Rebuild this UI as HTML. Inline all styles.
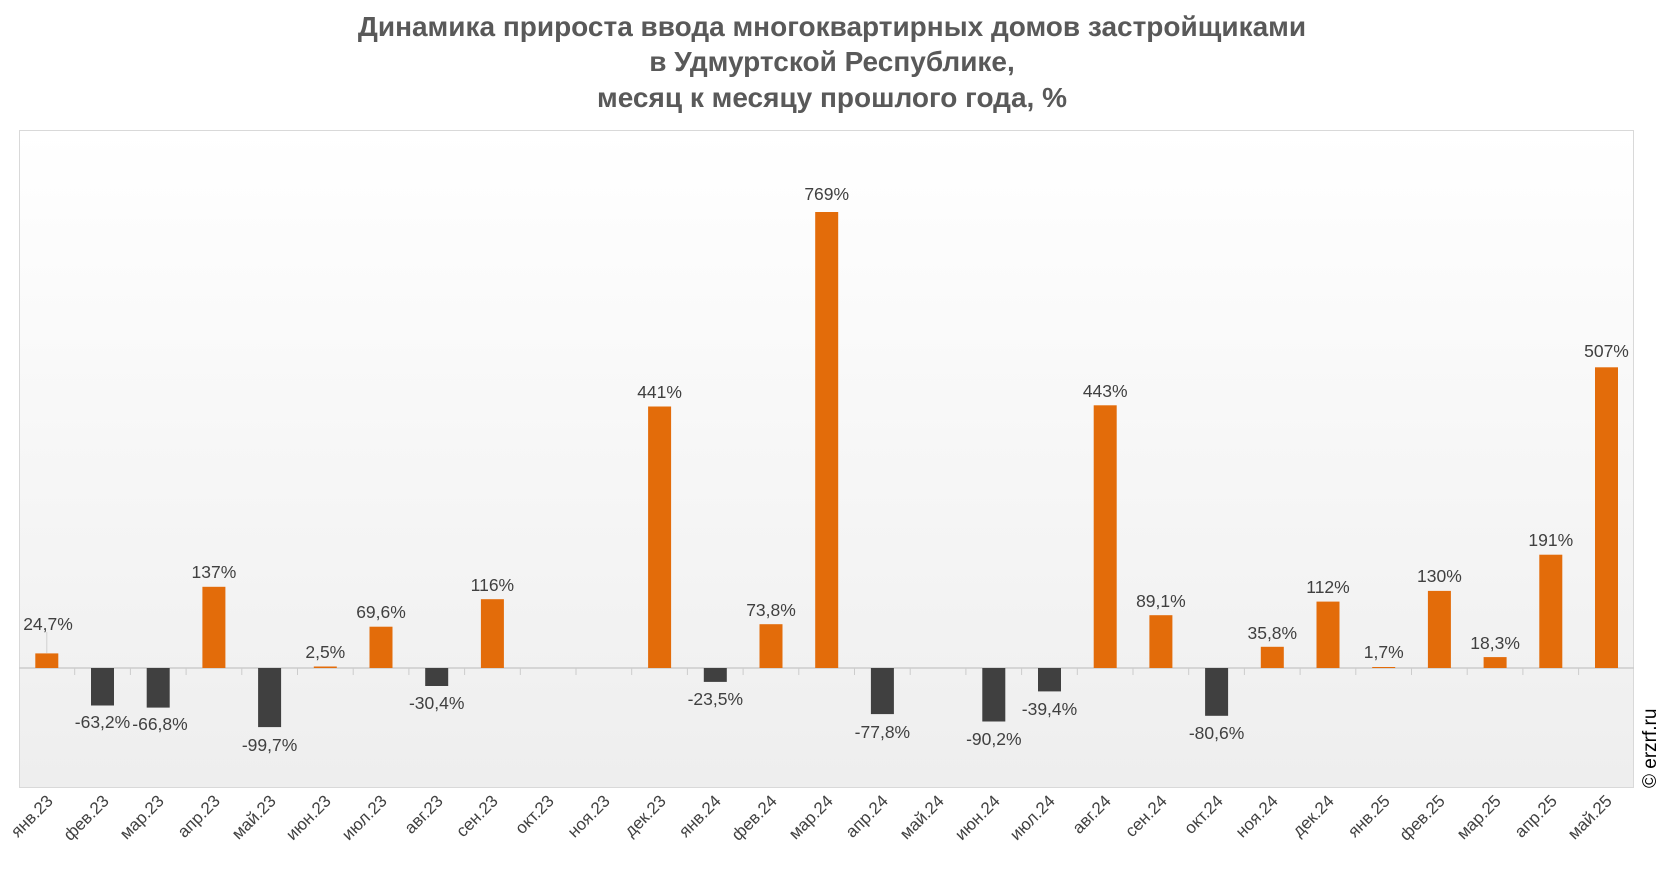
<!DOCTYPE html><html><head><meta charset="utf-8"><style>
body{margin:0;background:#fff}
svg{display:block;font-family:"Liberation Sans",Arial,sans-serif}
.t{font-weight:bold;font-size:28px;fill:#595959}
.l{font-size:17.5px;fill:#404040;text-anchor:middle}
.x{font-size:17px;fill:#404040;text-anchor:end}
.p{fill:#e36c0a}.n{fill:#404040}
</style></head><body>
<svg width="1666" height="872" viewBox="0 0 1666 872">
<defs><linearGradient id="g" x1="0" y1="0" x2="0" y2="1"><stop offset="0" stop-color="#ffffff"/><stop offset="1" stop-color="#eeeeee"/></linearGradient></defs>
<text class="t" x="832" y="36" text-anchor="middle">Динамика прироста ввода многоквартирных домов застройщиками</text>
<text class="t" x="832" y="71" text-anchor="middle">в Удмуртской Республике,</text>
<text class="t" x="832" y="107" text-anchor="middle">месяц к месяцу прошлого года, %</text>
<rect x="19.5" y="130.5" width="1614" height="657" fill="url(#g)" stroke="#d9d9d9"/>
<line x1="19" y1="668" x2="1634" y2="668" stroke="#cccccc" stroke-width="1.5"/>
<g stroke="#cccccc">
<line x1="74.7" y1="668" x2="74.7" y2="675"/><line x1="130.4" y1="668" x2="130.4" y2="675"/><line x1="186.1" y1="668" x2="186.1" y2="675"/><line x1="241.8" y1="668" x2="241.8" y2="675"/><line x1="297.5" y1="668" x2="297.5" y2="675"/><line x1="353.2" y1="668" x2="353.2" y2="675"/><line x1="408.9" y1="668" x2="408.9" y2="675"/><line x1="464.6" y1="668" x2="464.6" y2="675"/><line x1="520.3" y1="668" x2="520.3" y2="675"/><line x1="576" y1="668" x2="576" y2="675"/><line x1="631.7" y1="668" x2="631.7" y2="675"/><line x1="687.4" y1="668" x2="687.4" y2="675"/><line x1="743.1" y1="668" x2="743.1" y2="675"/><line x1="798.8" y1="668" x2="798.8" y2="675"/><line x1="854.5" y1="668" x2="854.5" y2="675"/><line x1="910.2" y1="668" x2="910.2" y2="675"/><line x1="965.9" y1="668" x2="965.9" y2="675"/><line x1="1021.6" y1="668" x2="1021.6" y2="675"/><line x1="1077.3" y1="668" x2="1077.3" y2="675"/><line x1="1133" y1="668" x2="1133" y2="675"/><line x1="1188.7" y1="668" x2="1188.7" y2="675"/><line x1="1244.4" y1="668" x2="1244.4" y2="675"/><line x1="1300.1" y1="668" x2="1300.1" y2="675"/><line x1="1355.8" y1="668" x2="1355.8" y2="675"/><line x1="1411.5" y1="668" x2="1411.5" y2="675"/><line x1="1467.2" y1="668" x2="1467.2" y2="675"/><line x1="1522.9" y1="668" x2="1522.9" y2="675"/><line x1="1578.6" y1="668" x2="1578.6" y2="675"/>
<line x1="46.8" y1="632" x2="46.8" y2="653" stroke="#d0d0d0"/>
</g>
<rect class="p" x="35.3" y="653.4" width="23" height="14.6"/>
<rect class="n" x="91" y="668" width="23" height="37.5"/>
<rect class="n" x="146.7" y="668" width="23" height="39.6"/>
<rect class="p" x="202.4" y="586.8" width="23" height="81.2"/>
<rect class="n" x="258.1" y="668" width="23" height="59.1"/>
<rect class="p" x="313.8" y="666.5" width="23" height="1.5"/>
<rect class="p" x="369.5" y="626.7" width="23" height="41.3"/>
<rect class="n" x="425.2" y="668" width="23" height="18"/>
<rect class="p" x="480.9" y="599.2" width="23" height="68.8"/>
<rect class="p" x="648.1" y="406.5" width="23" height="261.5"/>
<rect class="n" x="703.8" y="668" width="23" height="13.9"/>
<rect class="p" x="759.5" y="624.2" width="23" height="43.8"/>
<rect class="p" x="815.2" y="212" width="23" height="456"/>
<rect class="n" x="870.9" y="668" width="23" height="46.1"/>
<rect class="n" x="982.3" y="668" width="23" height="53.5"/>
<rect class="n" x="1038" y="668" width="23" height="23.4"/>
<rect class="p" x="1093.7" y="405.3" width="23" height="262.7"/>
<rect class="p" x="1149.4" y="615.2" width="23" height="52.8"/>
<rect class="n" x="1205.1" y="668" width="23" height="47.8"/>
<rect class="p" x="1260.8" y="646.8" width="23" height="21.2"/>
<rect class="p" x="1316.5" y="601.6" width="23" height="66.4"/>
<rect class="p" x="1372.2" y="667" width="23" height="1"/>
<rect class="p" x="1427.9" y="590.9" width="23" height="77.1"/>
<rect class="p" x="1483.6" y="657.1" width="23" height="10.9"/>
<rect class="p" x="1539.3" y="554.7" width="23" height="113.3"/>
<rect class="p" x="1595" y="367.3" width="23" height="300.7"/>
<text class="l" x="48" y="630">24,7%</text>
<text class="l" x="102.5" y="728">-63,2%</text>
<text class="l" x="160" y="730">-66,8%</text>
<text class="l" x="213.9" y="578">137%</text>
<text class="l" x="269.6" y="751">-99,7%</text>
<text class="l" x="325.3" y="658">2,5%</text>
<text class="l" x="381" y="618">69,6%</text>
<text class="l" x="436.7" y="709">-30,4%</text>
<text class="l" x="492.4" y="591">116%</text>
<text class="l" x="659.6" y="398">441%</text>
<text class="l" x="715.3" y="705">-23,5%</text>
<text class="l" x="771" y="616">73,8%</text>
<text class="l" x="826.7" y="200">769%</text>
<text class="l" x="882.4" y="738">-77,8%</text>
<text class="l" x="993.8" y="745">-90,2%</text>
<text class="l" x="1049.5" y="715">-39,4%</text>
<text class="l" x="1105.2" y="397">443%</text>
<text class="l" x="1160.9" y="607">89,1%</text>
<text class="l" x="1216.6" y="739">-80,6%</text>
<text class="l" x="1272.3" y="639">35,8%</text>
<text class="l" x="1328" y="593">112%</text>
<text class="l" x="1383.7" y="658">1,7%</text>
<text class="l" x="1439.4" y="582">130%</text>
<text class="l" x="1495.1" y="649">18,3%</text>
<text class="l" x="1550.8" y="546">191%</text>
<text class="l" x="1606.5" y="357">507%</text>
<g class="x">
<text transform="translate(54,802) rotate(-45)">янв.23</text>
<text transform="translate(110,802) rotate(-45)">фев.23</text>
<text transform="translate(165,802) rotate(-45)">мар.23</text>
<text transform="translate(221,802) rotate(-45)">апр.23</text>
<text transform="translate(277,802) rotate(-45)">май.23</text>
<text transform="translate(332,802) rotate(-45)">июн.23</text>
<text transform="translate(388,802) rotate(-45)">июл.23</text>
<text transform="translate(444,802) rotate(-45)">авг.23</text>
<text transform="translate(499,802) rotate(-45)">сен.23</text>
<text transform="translate(555,802) rotate(-45)">окт.23</text>
<text transform="translate(611,802) rotate(-45)">ноя.23</text>
<text transform="translate(667,802) rotate(-45)">дек.23</text>
<text transform="translate(722,802) rotate(-45)">янв.24</text>
<text transform="translate(778,802) rotate(-45)">фев.24</text>
<text transform="translate(834,802) rotate(-45)">мар.24</text>
<text transform="translate(889,802) rotate(-45)">апр.24</text>
<text transform="translate(945,802) rotate(-45)">май.24</text>
<text transform="translate(1001,802) rotate(-45)">июн.24</text>
<text transform="translate(1056,802) rotate(-45)">июл.24</text>
<text transform="translate(1112,802) rotate(-45)">авг.24</text>
<text transform="translate(1168,802) rotate(-45)">сен.24</text>
<text transform="translate(1224,802) rotate(-45)">окт.24</text>
<text transform="translate(1279,802) rotate(-45)">ноя.24</text>
<text transform="translate(1335,802) rotate(-45)">дек.24</text>
<text transform="translate(1391,802) rotate(-45)">янв.25</text>
<text transform="translate(1446,802) rotate(-45)">фев.25</text>
<text transform="translate(1502,802) rotate(-45)">мар.25</text>
<text transform="translate(1558,802) rotate(-45)">апр.25</text>
<text transform="translate(1613,802) rotate(-45)">май.25</text>
</g>
<text transform="translate(1656,788) rotate(-90)" font-size="19" fill="#000">© erzrf.ru</text>
</svg></body></html>
